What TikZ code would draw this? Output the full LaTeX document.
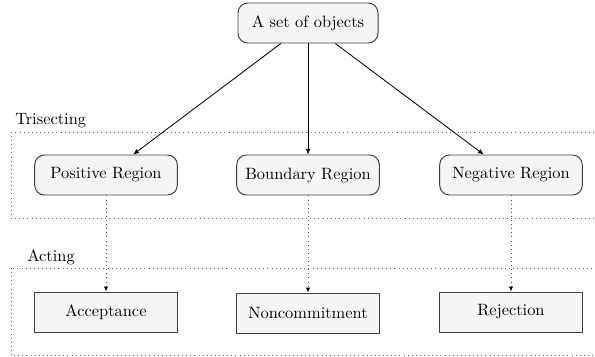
\documentclass[tikz,border=0pt]{standalone}
\usetikzlibrary{arrows.meta}
\begin{document}
\begin{tikzpicture}[x=0.61pt,y=-0.61pt,
  rbox/.style={draw=black!75, fill=black!4, rounded corners=6pt, line width=0.6pt,
    minimum width=87pt, minimum height=24.4pt, inner sep=2pt},
  sbox/.style={draw=black!75, fill=black!4, line width=0.6pt,
    minimum width=87pt, minimum height=24.4pt, inner sep=2pt},
  zone/.style={draw=black!60, dotted, line width=0.5pt},
  zlabel/.style={anchor=base west, inner sep=0pt},
  solidarrow/.style={draw=black, line width=0.5pt, -{Latex[length=3.5pt,width=3pt]}},
  dotarrow/.style={draw=black!70, dotted, line width=0.5pt, -{Latex[length=3pt,width=2.6pt,fill=black,color=black]}}
]
\useasboundingbox (0,0) rectangle (595,356);
\draw[zone] (11,132) rectangle (610,218);
\draw[zone] (11,268) rectangle (610,355);
\node[zlabel] (tri) at (15,124) {Trisecting};
\node[zlabel] (act) at (27,261) {Acting};
\node[rbox, minimum width=85.4pt] (top) at (308,23) {A set of objects};
\node[rbox] (pos) at (106,175) {Positive Region};
\node[rbox] (bnd) at (308,175) {Boundary Region};
\node[rbox] (neg) at (511,175) {Negative Region};
\node[sbox] (acc) at (106,312) {Acceptance};
\node[sbox] (non) at (308,313) {Noncommitment};
\node[sbox] (rej) at (511,312) {Rejection};
\draw[solidarrow] (top) -- (pos);
\draw[solidarrow] (top) -- (bnd);
\draw[solidarrow] (top) -- (neg);
\draw[dotarrow] (pos) -- (acc);
\draw[dotarrow] (bnd) -- (non);
\draw[dotarrow] (neg) -- (rej);
\end{tikzpicture}
\end{document}
